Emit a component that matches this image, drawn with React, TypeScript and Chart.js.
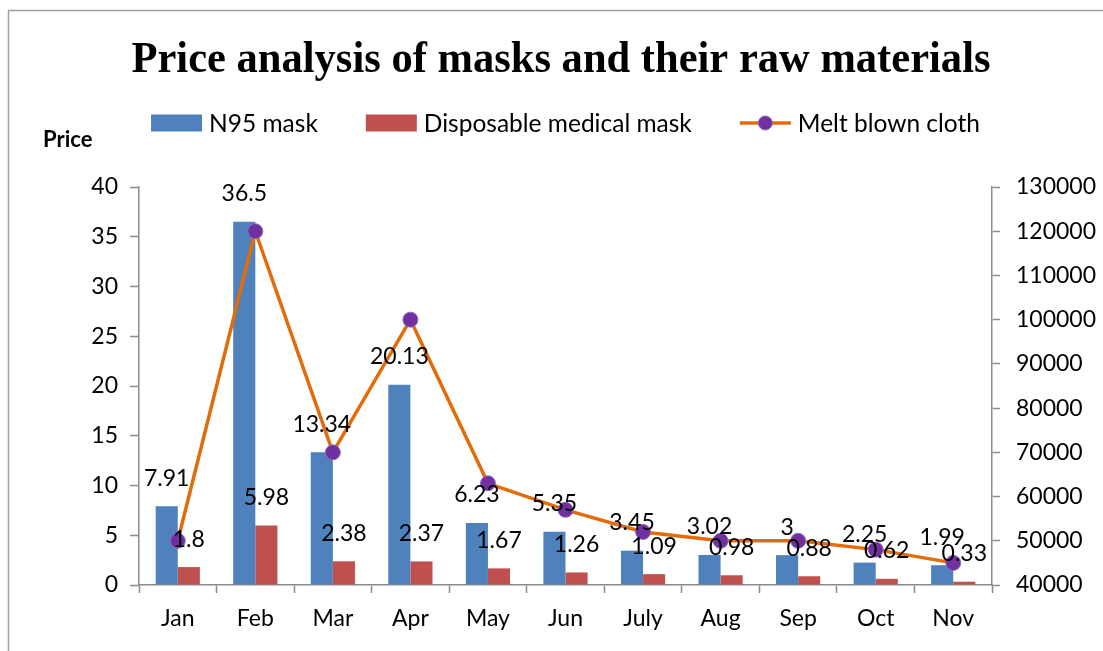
import React, { useEffect, useRef } from "react";
import { Chart, registerables } from "chart.js";

Chart.register(...registerables);

const TITLE = "Price analysis of masks and their raw materials";
const Y_LABEL = "Price";
const categories = ["Jan", "Feb", "Mar", "Apr", "May", "Jun", "July", "Aug", "Sep", "Oct", "Nov"];
const n95Mask = [7.91, 36.5, 13.34, 20.13, 6.23, 5.35, 3.45, 3.02, 3, 2.25, 1.99];
const disposableMask = [1.8, 5.98, 2.38, 2.37, 1.67, 1.26, 1.09, 0.98, 0.88, 0.62, 0.33];
const meltBlownCloth = [50000, 120000, 70000, 100000, 63000, 57000, 52000, 50000, 50000, 48000, 45000];
const seriesNames = ["N95 mask", "Disposable medical mask", "Melt blown cloth"];

const BLUE = "#4F81BD";
const RED = "#C0504D";
const ORANGE = "#E36C09";
const PURPLE = "#7030A0";
const AXIS = "#8C8C8C";
const FONT = "Lato, 'Open Sans', sans-serif";

const decorPlugin = {
  id: "decor",
  afterDraw(chart: any) {
    const ctx = chart.ctx;
    const area = chart.chartArea;
    ctx.save();
    // frame
    ctx.strokeStyle = "#A0A0A0";
    ctx.lineWidth = 1.5;
    ctx.beginPath();
    ctx.moveTo(8.5, chart.height + 5);
    ctx.lineTo(8.5, 10.5);
    ctx.lineTo(chart.width + 5, 10.5);
    ctx.stroke();

    // data labels for bars
    ctx.fillStyle = "#000";
    ctx.font = `23px ${FONT}`;
    ctx.textAlign = "center";
    ctx.textBaseline = "middle";
    [0, 1].forEach((di) => {
      const meta = chart.getDatasetMeta(di);
      const data = chart.data.datasets[di].data;
      meta.data.forEach((bar: any, i: number) => {
        ctx.fillText(String(data[i]), bar.x, bar.y - 28);
      });
    });

    // title (condensed serif bold)
    ctx.font = `bold 45px 'Liberation Serif', 'Times New Roman', serif`;
    ctx.textBaseline = "alphabetic";
    const tw = ctx.measureText(TITLE).width;
    const sx = Math.min(1, 859 / tw);
    ctx.save();
    ctx.translate(561, 72);
    ctx.scale(sx, 1);
    ctx.textAlign = "center";
    ctx.fillText(TITLE, 0, 0);
    ctx.restore();

    // y axis label
    ctx.font = `bold 22px ${FONT}`;
    ctx.textAlign = "left";
    ctx.textBaseline = "middle";
    ctx.fillText(Y_LABEL, 43, 140);

    // legend
    ctx.font = `24.5px ${FONT}`;
    const boxW = 51;
    const gapText = 7;
    const itemGap = 48;
    const widths = seriesNames.map((s) => boxW + gapText + ctx.measureText(s).width);
    const total = widths.reduce((a, b) => a + b, 0) + itemGap * (seriesNames.length - 1);
    let x = (area.left + area.right) / 2 - total / 2;
    const ly = 123;
    seriesNames.forEach((name, i) => {
      if (i < 2) {
        ctx.fillStyle = i === 0 ? BLUE : RED;
        ctx.fillRect(x, ly - 8.5, boxW, 17);
      } else {
        ctx.strokeStyle = ORANGE;
        ctx.lineWidth = 3.5;
        ctx.beginPath();
        ctx.moveTo(x, ly);
        ctx.lineTo(x + boxW, ly);
        ctx.stroke();
        ctx.fillStyle = PURPLE;
        ctx.strokeStyle = "#8E6BB8";
        ctx.lineWidth = 1;
        ctx.beginPath();
        ctx.arc(x + boxW / 2, ly, 7, 0, Math.PI * 2);
        ctx.fill();
        ctx.stroke();
      }
      ctx.fillStyle = "#000";
      ctx.textAlign = "left";
      ctx.textBaseline = "middle";
      ctx.fillText(name, x + boxW + gapText, ly + 1);
      x += widths[i] + itemGap;
    });
    ctx.restore();
  },
};

export default function App() {
  const ref = useRef<HTMLCanvasElement | null>(null);
  useEffect(() => {
    if (!ref.current) return;
    const tickFont = { family: FONT, size: 23 };
    const chart = new Chart(ref.current, {
      type: "bar",
      data: {
        labels: categories,
        datasets: [
          {
            type: "bar",
            label: seriesNames[0],
            data: n95Mask,
            backgroundColor: BLUE,
            yAxisID: "y",
            categoryPercentage: 0.57,
            barPercentage: 1,
            order: 2,
          },
          {
            type: "bar",
            label: seriesNames[1],
            data: disposableMask,
            backgroundColor: RED,
            yAxisID: "y",
            categoryPercentage: 0.57,
            barPercentage: 1,
            order: 2,
          },
          {
            type: "line",
            label: seriesNames[2],
            data: meltBlownCloth,
            borderColor: ORANGE,
            borderWidth: 3.5,
            backgroundColor: PURPLE,
            pointBackgroundColor: PURPLE,
            pointBorderColor: "#8E6BB8",
            pointBorderWidth: 1,
            pointRadius: 7.5,
            tension: 0,
            yAxisID: "y1",
            order: 1,
          } as any,
        ],
      },
      options: {
        animation: false,
        responsive: true,
        maintainAspectRatio: false,
        layout: { padding: { top: 187, left: 0, right: 0, bottom: 0 } },
        plugins: {
          legend: { display: false },
          title: { display: false },
          tooltip: { enabled: false },
        },
        scales: {
          x: {
            offset: true,
            grid: {
              display: true,
              offset: true,
              drawOnChartArea: false,
              drawTicks: true,
              tickLength: 8,
              tickColor: AXIS,
              tickWidth: 1.5,
            },
            border: { display: true, color: AXIS, width: 1.5 },
            ticks: { font: tickFont, color: "#000", padding: 12, maxRotation: 0 },
            afterFit(scale: any) {
              scale.height = 66;
            },
          },
          y: {
            position: "left",
            min: 0,
            max: 40,
            ticks: { stepSize: 5, font: tickFont, color: "#000", padding: 12 },
            grid: {
              drawOnChartArea: false,
              drawTicks: true,
              tickLength: 9,
              tickColor: AXIS,
              tickWidth: 1.5,
            },
            border: { display: true, color: AXIS, width: 1.5 },
            afterFit(scale: any) {
              scale.width = 139;
            },
          },
          y1: {
            position: "right",
            min: 40000,
            max: 130000,
            ticks: {
              stepSize: 10000,
              font: tickFont,
              color: "#000",
              padding: 16,
              callback: (v: any) => String(v),
            },
            grid: {
              drawOnChartArea: false,
              drawTicks: true,
              tickLength: 8,
              tickColor: AXIS,
              tickWidth: 1.5,
            },
            border: { display: true, color: AXIS, width: 1.5 },
            afterFit(scale: any) {
              scale.width = 111;
            },
          },
        },
      },
      plugins: [decorPlugin],
    });
    return () => chart.destroy();
  }, []);

  return (
    <div style={{ position: "fixed", left: 0, top: 0, width: 1103, height: 651, background: "#fff" }}>
      <canvas ref={ref} />
    </div>
  );
}
